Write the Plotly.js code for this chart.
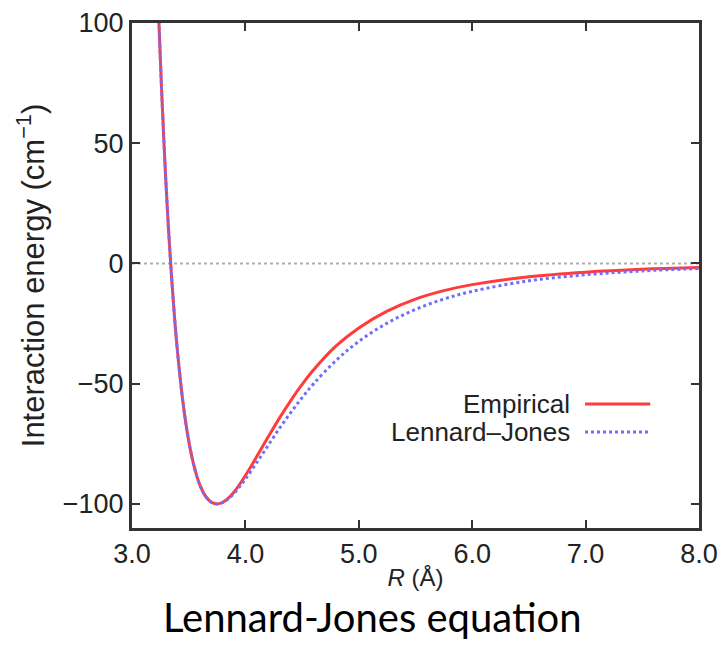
<!DOCTYPE html>
<html>
<head>
<meta charset="utf-8">
<script src="https://cdn.plot.ly/plotly-3.0.1.min.js"></script>
<style>html,body{margin:0;padding:0;background:#fff;}#chart{width:719px;height:652px;}</style>
</head>
<body>
<div id="chart"></div>
<script>
// Separation R (Å)
var R = [3.22, 3.24, 3.26, 3.28, 3.30, 3.325, 3.35, 3.375, 3.40, 3.45, 3.50, 3.55, 3.60, 3.65, 3.70, 3.75, 3.80, 3.85, 3.90, 3.95, 4.0, 4.1, 4.2, 4.3, 4.4, 4.5, 4.6, 4.8, 5.0, 5.25, 5.5, 5.75, 6.0, 6.5, 7.0, 7.5, 8.0];
// Interaction energy (cm^-1)
var empirical = [123.5, 97.1, 73.4, 52.1, 33.0, 11.9, -6.4, -22.3, -36.0, -57.9, -73.7, -84.8, -92.3, -96.9, -99.3, -100.0, -99.3, -97.6, -95.0, -91.8, -88.2, -80.3, -72.2, -64.3, -57.0, -50.3, -44.3, -34.3, -26.8, -19.8, -14.8, -11.3, -8.8, -5.5, -3.6, -2.4, -1.7];
var lennardJones = [123.5, 97.1, 73.4, 52.1, 33.0, 11.9, -6.4, -22.3, -36.0, -57.9, -73.7, -84.8, -92.3, -96.9, -99.3, -100.0, -99.4, -97.9, -95.6, -92.8, -89.7, -82.8, -75.7, -68.6, -62.0, -55.8, -50.1, -40.3, -32.4, -24.8, -19.1, -14.8, -11.6, -7.2, -4.7, -3.1, -2.1];
var seriesNames = ["Empirical", "Lennard\u2013Jones"];
var xTicks = [3, 4, 5, 6, 7, 8];
var yTicks = [-100, -50, 0, 50, 100];

var fam = "Liberation Sans Narrow, Liberation Sans, Arial, sans-serif";
var tickFont = {family: fam, size: 27, color: "#222"};
var redC = "#ff3b3b", blueC = "#6f6fff";

var traces = [
  {x: R, y: empirical, name: seriesNames[0], mode: "lines", line: {color: redC, width: 3, shape: "spline"}, showlegend: false},
  {x: R, y: lennardJones, name: seriesNames[1], mode: "lines", line: {color: blueC, width: 3, dash: "dot", shape: "spline"}, showlegend: false}
];

var axisCommon = {
  showgrid: false, zeroline: false, showline: true, linecolor: "#333", linewidth: 3,
  mirror: "ticks", ticks: "inside", ticklen: 8, tickwidth: 2, tickcolor: "#333",
  tickfont: tickFont
};

var layout = {
  width: 719, height: 652,
  margin: {l: 132, r: 20, t: 23, b: 124},
  paper_bgcolor: "#fff", plot_bgcolor: "#fff",
  xaxis: Object.assign({}, axisCommon, {
    range: [3, 8], tickvals: xTicks, tickformat: ".1f",
    title: {text: "<i>R</i> (Å)", font: {family: fam, size: 24, color: "#222"}, standoff: 1}
  }),
  yaxis: Object.assign({}, axisCommon, {
    range: [-110, 100], tickvals: yTicks,
    title: {text: "Interaction energy (cm<sup>\u22121</sup>)", font: {family: fam, size: 31, color: "#222"}, standoff: 9}
  }),
  shapes: [
    {type: "line", xref: "paper", yref: "y", x0: 0, x1: 1, y0: 0, y1: 0, line: {color: "#b0b0b0", width: 2, dash: "dot"}, layer: "below"},
    {type: "line", xref: "paper", yref: "paper", x0: 0.799, x1: 0.914, y0: 0.2455, y1: 0.2455, line: {color: redC, width: 3}},
    {type: "line", xref: "paper", yref: "paper", x0: 0.799, x1: 0.914, y0: 0.190, y1: 0.190, line: {color: blueC, width: 3, dash: "dot"}}
  ],
  annotations: [
    {xref: "paper", yref: "paper", x: 0.776, y: 0.2455, xanchor: "right", yanchor: "middle", text: seriesNames[0], showarrow: false, font: {family: fam, size: 26, color: "#222"}},
    {xref: "paper", yref: "paper", x: 0.776, y: 0.190, xanchor: "right", yanchor: "middle", text: seriesNames[1], showarrow: false, font: {family: fam, size: 26, color: "#222"}},
    {xref: "paper", yref: "paper", x: 0.424, y: -0.176, xanchor: "center", yanchor: "middle", text: "Lennard-Jones equation", showarrow: false, font: {family: "Lato, Open Sans, sans-serif", size: 40, color: "#000"}}
  ]
};

Plotly.newPlot("chart", traces, layout, {displayModeBar: false, staticPlot: true});
</script>
</body>
</html>
